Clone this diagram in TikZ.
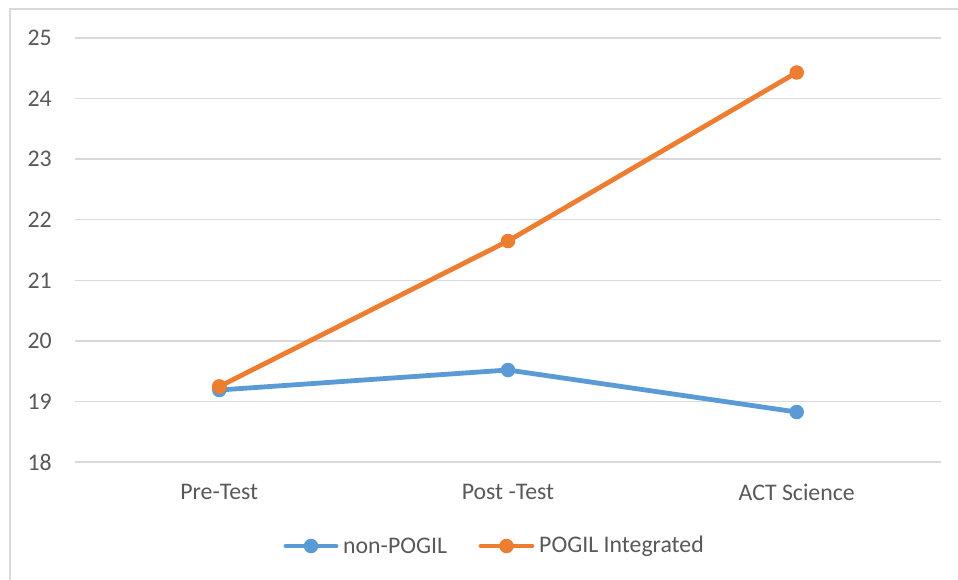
\documentclass[tikz,border=0pt]{standalone}
\usepackage{fontspec}
\setmainfont{Carlito}
\definecolor{sblue}{HTML}{5B9BD5}
\definecolor{sorange}{HTML}{ED7D31}
\definecolor{gridc}{HTML}{D9D9D9}
\definecolor{txt}{HTML}{595959}
\begin{document}
\begin{tikzpicture}[x=1pt,y=-1pt,
  lbl/.style={text=txt,font=\fontsize{23.8}{28}\selectfont,inner sep=0pt},
  grid line/.style={draw=gridc,line width=1.5pt},
  ser/.style={line width=4.8pt,line cap=round,line join=round},
  mk/.style={circle,fill=#1,inner sep=0pt,minimum size=14.5pt}]
\useasboundingbox (0,0) rectangle (958,579);
\fill[white] (0,0) rectangle (958,579);
\draw[draw=gridc,line width=1.5pt] (10,600) -- (10,9) -- (980,9);
% gridlines and y labels
\foreach \v [evaluate=\v as \yy using 462-(\v-18)*60.57] in {18,...,25}{
  \draw[grid line] (75,\yy) -- (941,\yy);
  \node[lbl,anchor=east] (y\v) at (52,\yy) {\v};
}
% category labels
\node[lbl] (c1) at (219.3,492) {Pre-Test};
\node[lbl] (c2) at (508,492) {Post -Test};
\node[lbl] (c3) at (796.7,492) {ACT Science};
% data markers
\node[mk=sblue] (b1) at (219.3,390) {};
\node[mk=sblue] (b2) at (508,370) {};
\node[mk=sblue] (b3) at (796.7,412) {};
\draw[ser,sblue] (b1.center) -- (b2.center) -- (b3.center);
\node[mk=sorange] (o1) at (219.3,386.5) {};
\node[mk=sorange] (o2) at (508,241) {};
\node[mk=sorange] (o3) at (796.7,72.5) {};
\draw[ser,sorange] (o1.center) -- (o2.center) -- (o3.center);
\node[mk=sorange] at (o1) {};
% legend
\coordinate (lb1) at (286,546);
\coordinate (lb2) at (336,546);
\draw[ser,sblue] (lb1) -- (lb2);
\node[mk=sblue] (lbm) at (311,546) {};
\node[lbl,anchor=west] (lbt) at (343,546) {non-POGIL};
\coordinate (lo1) at (481,546);
\coordinate (lo2) at (532,546);
\draw[ser,sorange] (lo1) -- (lo2);
\node[mk=sorange] (lom) at (506.5,546) {};
\node[lbl,anchor=west] (lot) at (539,546) {POGIL Integrated};
\end{tikzpicture}
\end{document}
